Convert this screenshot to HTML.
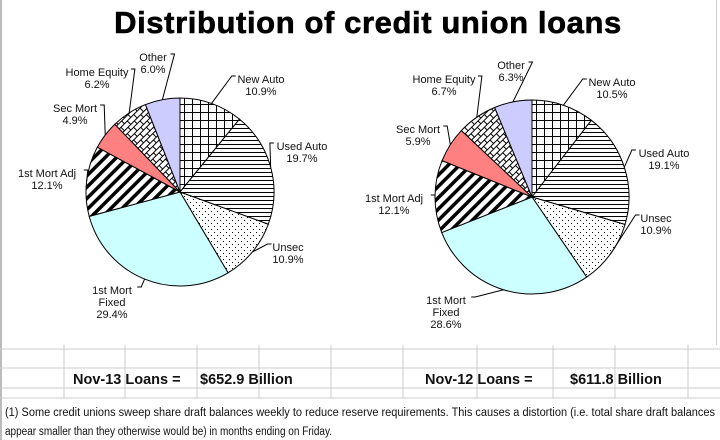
<!DOCTYPE html>
<html><head><meta charset="utf-8"><style>
body{margin:0;width:720px;height:440px;overflow:hidden;background:#fff;font-family:"Liberation Sans",Arial,sans-serif;}
svg{display:block}
</style></head><body>
<svg id="chart" width="720" height="440" xmlns="http://www.w3.org/2000/svg">
<defs>
<pattern id="p-grid" width="8" height="8" patternUnits="userSpaceOnUse"><rect width="8" height="8" fill="#fff"/><path d="M0 0.5H8M0.5 0V8" stroke="#000" stroke-width="1"/></pattern>
<pattern id="p-horiz" width="4" height="4" patternUnits="userSpaceOnUse"><rect width="4" height="4" fill="#fff"/><path d="M0 0.5H4" stroke="#000" stroke-width="1"/></pattern>
<pattern id="p-dots" width="6" height="6" patternUnits="userSpaceOnUse"><rect width="6" height="6" fill="#fff"/><rect x="1" y="1" width="1" height="1" fill="#000"/><rect x="4" y="4" width="1" height="1" fill="#000"/></pattern>
<pattern id="p-diag" width="8" height="8" patternUnits="userSpaceOnUse" patternTransform="rotate(45)"><rect width="8" height="8" fill="#fff"/><rect width="3.5" height="8" fill="#000"/></pattern>
<pattern id="p-brick" width="9" height="9" patternUnits="userSpaceOnUse" patternTransform="rotate(-45)"><rect width="9" height="9" fill="#fff"/><path d="M0 0.5H9M0.5 0V4.5M4.5 4.5V9M0 4.5H9" stroke="#000" stroke-width="1"/></pattern>
</defs>
<rect x="0" y="0" width="2" height="440" fill="#bbb"/>
<rect x="716" y="0" width="1" height="345" fill="#ccc"/>
<text x="368" y="33" text-anchor="middle" font-size="31" font-weight="bold" letter-spacing="0.6" stroke="#000" stroke-width="0.6">Distribution of credit union loans</text>
<g id="pie1"></g>
<g id="pie2"></g>
<g id="table"></g>
<text x="5" y="416" font-size="11.5" fill="#111" textLength="710" lengthAdjust="spacingAndGlyphs">(1) Some credit unions sweep share draft balances weekly to reduce reserve requirements. This causes a distortion (i.e. total share draft balances</text>
<text x="5" y="435" font-size="11.5" fill="#111" textLength="327" lengthAdjust="spacingAndGlyphs">appear smaller than they otherwise would be) in months ending on Friday.</text>
</svg>
<script>
const categories = ["New Auto","Used Auto","Unsec","1st Mort Fixed","1st Mort Adj","Sec Mort","Home Equity","Other"];
const valuesNov13 = [10.9,19.7,10.9,29.4,12.1,4.9,6.2,6.0];
const valuesNov12 = [10.5,19.1,10.9,28.6,12.1,5.9,6.7,6.3];
const fills = ["url(#p-grid)","url(#p-horiz)","url(#p-dots)","#ccffff","url(#p-diag)","#ff8080","url(#p-brick)","#ccccff"];
const labelLines = [["New Auto"],["Used Auto"],["Unsec"],["1st Mort","Fixed"],["1st Mort Adj"],["Sec Mort"],["Home Equity"],["Other"]];
const labelPos1 = [[261,79],[302,146],[288,247],[112,290],[47,173],[75,108],[97,72],[153,57]];
const labelPos2 = [[612,82],[664,153],[656,218],[446,300],[394,198],[418,129],[444,79],[511,65]];
const NS="http://www.w3.org/2000/svg";
function mk(tag,attrs,parent){const e=document.createElementNS(NS,tag);for(const k in attrs)e.setAttribute(k,attrs[k]);parent.appendChild(e);return e;}
function drawPie(g,vals,cx,cy,r,lp,key){
  const total=vals.reduce((a,b)=>a+b,0);
  let a=-Math.PI/2;
  vals.forEach((v,i)=>{
    const a2=a+v/total*2*Math.PI;
    const x1=cx+r*Math.cos(a),y1=cy+r*Math.sin(a),x2=cx+r*Math.cos(a2),y2=cy+r*Math.sin(a2);
    const large=(a2-a)>Math.PI?1:0;
    const p=mk("path",{d:`M${cx},${cy}L${x1},${y1}A${r},${r} 0 ${large} 1 ${x2},${y2}Z`,fill:fills[i],stroke:"#000","stroke-width":"1"},g);
    
    
    const mid=(a+a2)/2;
    const ex=cx+r*Math.cos(mid),ey=cy+r*Math.sin(mid);
    const [lx,ly]=lp[i];
    const lines=labelLines[i].concat([v.toFixed(1)+"%"]);
    const hw=labelLines[i][0].length*2.9+2;
    let ax,ay;
    if(i===7){ax=lx+hw+1;ay=ly-3;}
    else if(ex>cx){ax=lx-hw;ay=ly-3;}
    else {ax=lx+hw;ay=ly-3;}
    const bx = ex>cx ? ax-4 : ax+4;
    const ln=mk("polyline",{points:`${ex},${ey} ${bx},${ay} ${ax},${ay}`,fill:"none",stroke:"#000","stroke-width":"1"},g);
    
    
    const t=mk("text",{x:lx,y:ly,"text-anchor":"middle","font-size":"11",fill:"#111"},g);
    
    
    lines.forEach((s,j)=>{const ts=mk("tspan",{x:lx,dy:j===0?4:12},t);ts.textContent=s;});
    a=a2;
  });
}
drawPie(document.getElementById("pie1"),valuesNov13,180,192,94,labelPos1,"nov13");
drawPie(document.getElementById("pie2"),valuesNov12,532,197,97,labelPos2,"nov12");
const tb=document.getElementById("table");
[349,368,388,398].forEach(y=>{const l=mk("line",{x1:0,x2:720,y1:y,y2:y,stroke:"#ccc"},tb);

});
[64,125,197,259,331,403,477,553,615,688].forEach(x=>{const l=mk("line",{x1:x,x2:x,y1:345,y2:398,stroke:"#ccc"},tb);

});
const cells=[["Nov-13 Loans =",73],["$652.9 Billion",200],["Nov-12 Loans =",425],["$611.8 Billion",570]];
cells.forEach(([s,x])=>{const t=mk("text",{x:x,y:384,"font-size":"14.5","font-weight":"bold",fill:"#111"},tb);t.textContent=s;

});
</script>
</body></html>
